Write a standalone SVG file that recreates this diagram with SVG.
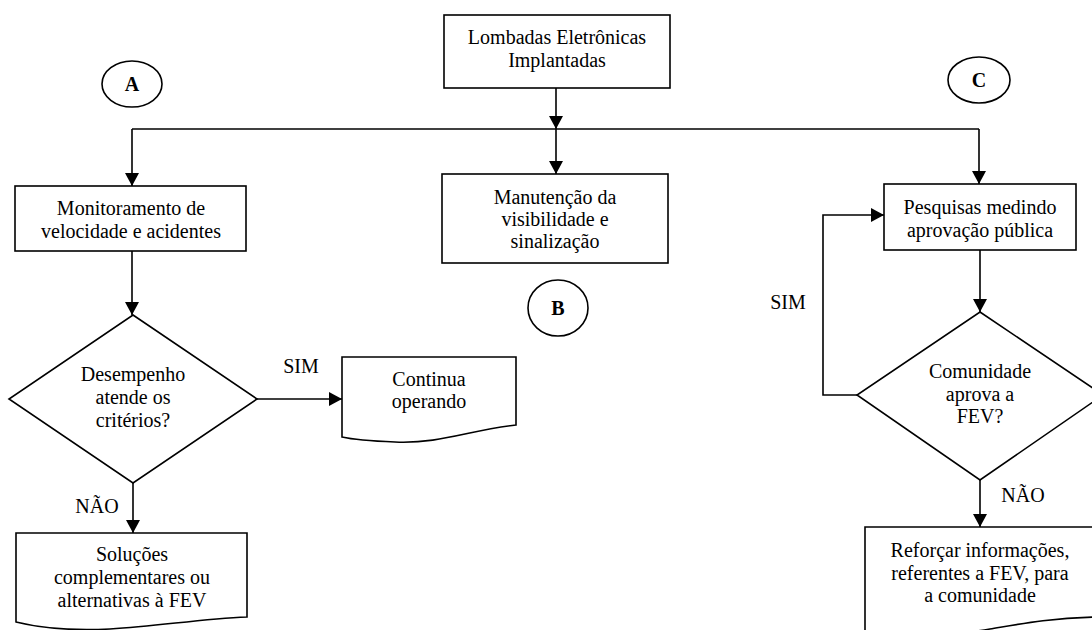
<svg xmlns="http://www.w3.org/2000/svg" width="1092" height="630" viewBox="0 0 1092 630">
<defs>
<style>
.shape{fill:#fff;stroke:#000;stroke-width:1.6}
.conn{fill:none;stroke:#000;stroke-width:1.6}
.t{font-family:"Liberation Serif","Times New Roman",serif;font-size:20px;fill:#000;text-anchor:middle}
.b{font-weight:bold}
</style>
<marker id="arr" markerUnits="userSpaceOnUse" markerWidth="14" markerHeight="14" refX="13" refY="7" orient="auto">
<path d="M0,0 L13,7 L0,14 z" fill="#000"/>
</marker>
</defs>
<rect width="1092" height="630" fill="#fff"/>

<g id="connectors">
<path class="conn" d="M556,88 V129" marker-end="url(#arr)"/>
<path class="conn" d="M132,129 H979"/>
<path class="conn" d="M132,129 V186" marker-end="url(#arr)"/>
<path class="conn" d="M556,129 V174" marker-end="url(#arr)"/>
<path class="conn" d="M979,129 V184" marker-end="url(#arr)"/>
<path class="conn" d="M132,251 V315" marker-end="url(#arr)"/>
<path class="conn" d="M257,399 H342" marker-end="url(#arr)"/>
<path class="conn" d="M133,483 V533" marker-end="url(#arr)"/>
<path class="conn" d="M980,250 V312" marker-end="url(#arr)"/>
<path class="conn" d="M857,395 H823 V215 H884" marker-end="url(#arr)"/>
<path class="conn" d="M980,480 V527" marker-end="url(#arr)"/>
</g>

<g id="labels">
<text class="t" x="301" y="373">SIM</text>
<text class="t" x="97" y="513">NÃO</text>
<text class="t" x="788" y="309">SIM</text>
<text class="t" x="1023" y="502">NÃO</text>
</g>

<g id="n-top">
<rect class="shape" x="444" y="15" width="226" height="73"/>
<text class="t" x="557" y="44">Lombadas Eletrônicas</text>
<text class="t" x="557" y="67">Implantadas</text>
</g>

<g id="c-A">
<ellipse class="shape" cx="132" cy="84" rx="30" ry="23"/>
<text class="t b" x="132" y="91">A</text>
</g>

<g id="c-B">
<ellipse class="shape" cx="558" cy="308" rx="30" ry="28"/>
<text class="t b" x="558" y="315">B</text>
</g>

<g id="c-C">
<ellipse class="shape" cx="979" cy="80" rx="31" ry="23"/>
<text class="t b" x="979" y="87">C</text>
</g>

<g id="n-monitor">
<rect class="shape" x="15" y="186" width="231" height="65"/>
<text class="t" x="131" y="215">Monitoramento de</text>
<text class="t" x="131" y="238">velocidade e acidentes</text>
</g>

<g id="n-manut">
<rect class="shape" x="442" y="174" width="226" height="89"/>
<text class="t" x="555" y="204">Manutenção da</text>
<text class="t" x="555" y="226">visibilidade e</text>
<text class="t" x="555" y="248">sinalização</text>
</g>

<g id="n-pesq">
<rect class="shape" x="884" y="184" width="192" height="66"/>
<text class="t" x="980" y="214">Pesquisas medindo</text>
<text class="t" x="980" y="237">aprovação pública</text>
</g>

<g id="d-desemp">
<polygon class="shape" points="133,315 257,399 133,483 9,399"/>
<text class="t" x="133" y="381">Desempenho</text>
<text class="t" x="133" y="404">atende os</text>
<text class="t" x="133" y="427">critérios?</text>
</g>

<g id="d-comun">
<polygon class="shape" points="980,312 1103,395 980,480 857,395"/>
<text class="t" x="980" y="378">Comunidade</text>
<text class="t" x="980" y="401">aprova a</text>
<text class="t" x="980" y="423">FEV?</text>
</g>

<g id="n-continua">
<path class="shape" d="M342,357 H516 V425 C470,430 440,444 395,442 C370,441 355,440 342,437 Z"/>
<text class="t" x="429" y="386">Continua</text>
<text class="t" x="429" y="408">operando</text>
</g>

<g id="n-solucoes">
<path class="shape" d="M16,533 H247 V617 C200,619 160,626 110,629 C70,631 40,628 16,622 Z"/>
<text class="t" x="132" y="561">Soluções</text>
<text class="t" x="132" y="584">complementares ou</text>
<text class="t" x="132" y="607">alternativas à FEV</text>
</g>

<g id="n-reforcar">
<path class="shape" d="M865,527 H1096 V617 C1050,618 1020,624 990,629 C950,636 900,636 865,633 Z"/>
<text class="t" x="980" y="557">Reforçar informações,</text>
<text class="t" x="980" y="580">referentes a FEV, para</text>
<text class="t" x="980" y="602">a comunidade</text>
</g>
</svg>
